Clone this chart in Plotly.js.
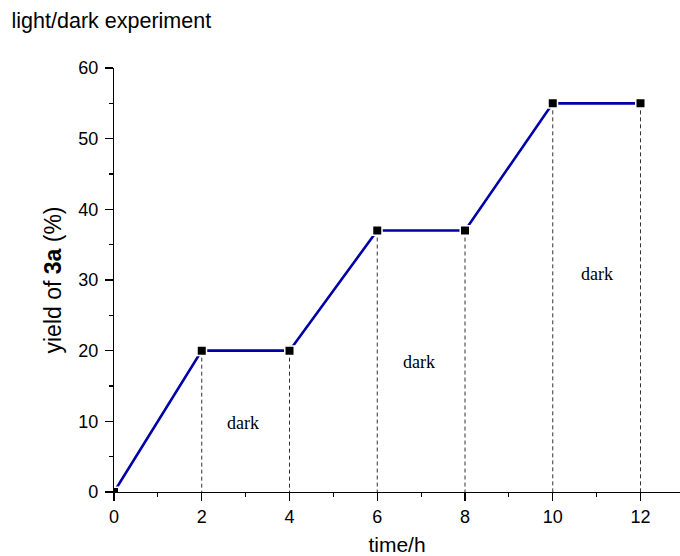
<!DOCTYPE html>
<html>
<head>
<meta charset="utf-8">
<script src="https://cdn.plot.ly/plotly-3.0.1.min.js"></script>
<style>html,body{margin:0;padding:0;background:#fff;}#chart{width:680px;height:556px;}</style>
</head>
<body>
<div id="chart"></div>
<script>
// Data
const timeH = [0, 2, 4, 6, 8, 10, 12];
const yieldPct = [0, 20, 20, 37, 37, 55, 55];
const darkLabelX = [2.94, 6.94, 11.0];
const darkLabelY = [9.7, 18.4, 30.8];
const darkLabels = ['dark', 'dark', 'dark'];
const xTicks = [0, 2, 4, 6, 8, 10, 12];
const yTicks = [0, 10, 20, 30, 40, 50, 60];

const AX = '"Liberation Sans", Arial, sans-serif';

// dashed drop lines built from data
const dropX = [], dropY = [];
for (let i = 1; i < timeH.length; i++) {
  dropX.push(timeH[i], timeH[i], null);
  dropY.push(yieldPct[i], 0, null);
}

const traces = [
  {x: dropX, y: dropY, mode: 'lines', type: 'scatter',
   line: {color: '#333', width: 1, dash: '4px,3px'}, hoverinfo: 'skip', showlegend: false},
  {x: timeH, y: yieldPct, mode: 'lines+markers', type: 'scatter', cliponaxis: true,
   line: {color: '#0000a8', width: 2.6},
   marker: {symbol: 'square', size: 9.5, color: '#000', line: {color: '#fff', width: 1.5}},
   showlegend: false}
];

const layout = {
  width: 680, height: 556,
  margin: {l: 114, r: 0, t: 68, b: 64},
  paper_bgcolor: '#fff', plot_bgcolor: '#fff',
  showlegend: false,
  title: {text: 'light/dark experiment', x: 0.017, xanchor: 'left', y: 0.964, yanchor: 'middle',
          font: {family: AX, size: 21.5, color: '#000'}},
  xaxis: {
    range: [0, 12.9], showgrid: false, zeroline: false,
    showline: true, linecolor: '#000', linewidth: 1.2,
    tickmode: 'array', tickvals: xTicks, ticktext: xTicks.map(String),
    ticks: 'outside', ticklen: 8, tickwidth: 1.2, tickcolor: '#000',
    minor: {dtick: 1, ticks: 'outside', ticklen: 4, tickwidth: 1.2, tickcolor: '#000', showgrid: false},
    tickfont: {family: AX, size: 18, color: '#000'},
    title: {text: 'time/h', font: {family: AX, size: 21, color: '#000'}, standoff: 18},
    automargin: false,
    fixedrange: true
  },
  yaxis: {
    range: [0, 60], showgrid: false, zeroline: false,
    showline: true, linecolor: '#000', linewidth: 1.2,
    tickmode: 'array', tickvals: yTicks, ticktext: yTicks.map(String),
    ticks: 'outside', ticklen: 8, tickwidth: 1.2, tickcolor: '#000',
    ticklabelstandoff: 3,
    minor: {dtick: 5, ticks: 'outside', ticklen: 4, tickwidth: 1.2, tickcolor: '#000', showgrid: false},
    tickfont: {family: AX, size: 18, color: '#000'},
    title: {text: 'yield of <b>3a</b> (%)', font: {family: AX, size: 23, color: '#000'}, standoff: 10},
    automargin: false,
    fixedrange: true
  },
  annotations: darkLabels.map((t, i) => ({
    x: darkLabelX[i], y: darkLabelY[i], text: t, showarrow: false,
    font: {family: '"Liberation Serif", "Times New Roman", serif', size: 18, color: '#000'}
  }))
};

Plotly.newPlot('chart', traces, layout, {displayModeBar: false, staticPlot: true});
</script>
</body>
</html>
